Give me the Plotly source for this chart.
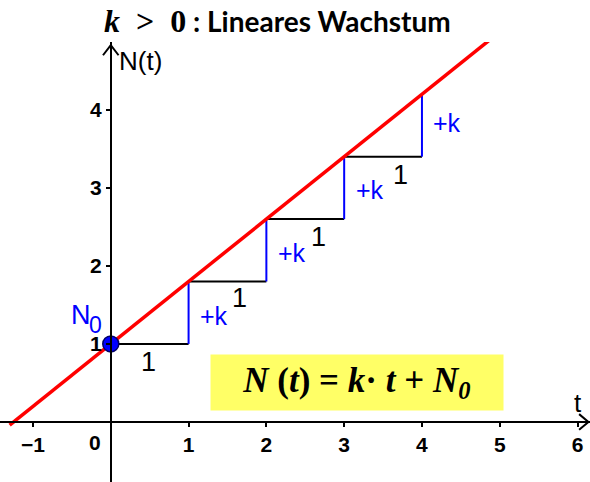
import plotly.graph_objects as go

# ---- data ----
t_line = [-1.3, 4.9]
N_line = [-0.04, 4.92]

step_t = [0, 1, 2, 3, 4]
step_N = [1.0, 1.8, 2.6, 3.4, 4.2]

one_label_t = [0.48, 1.66, 2.67, 3.72]
one_label_N = [0.77, 1.59, 2.37, 3.17]

k_label_t = [1.12, 2.12, 3.12, 4.12]
k_label_N = [1.36, 2.17, 2.97, 3.83]

x_ticks = [-1, 1, 2, 3, 4, 5, 6]
x_ticktext = ["\u22121", "1", "2", "3", "4", "5", "6"]
y_ticks = [1, 2, 3, 4]

X_RANGE = [-1.424, 6.16]
Y_RANGE = [-0.77, 4.87]

SANS = "Liberation Sans, Arial, sans-serif"

fig = go.Figure()

# black horizontal and blue vertical step segments
hx, hy, vx, vy = [], [], [], []
for i in range(len(step_t) - 1):
    hx += [step_t[i], step_t[i + 1], None]
    hy += [step_N[i], step_N[i], None]
    vx += [step_t[i + 1], step_t[i + 1], None]
    vy += [step_N[i], step_N[i + 1], None]

fig.add_trace(go.Scatter(x=hx, y=hy, mode="lines",
                         line=dict(color="black", width=2), hoverinfo="skip"))
fig.add_trace(go.Scatter(x=vx, y=vy, mode="lines",
                         line=dict(color="#0000ff", width=2), hoverinfo="skip"))
fig.add_trace(go.Scatter(x=t_line, y=N_line, mode="lines",
                         line=dict(color="#ff0000", width=3.5), hoverinfo="skip"))
fig.add_trace(go.Scatter(x=[step_t[0]], y=[step_N[0]], mode="markers",
                         marker=dict(color="#0000ff", size=16,
                                     line=dict(color="#000066", width=1.5)),
                         hoverinfo="skip"))

anns = []
for tx, ny in zip(one_label_t, one_label_N):
    anns.append(dict(x=tx, y=ny, text="1", showarrow=False,
                     font=dict(family=SANS, size=27, color="black")))
for tx, ny in zip(k_label_t, k_label_N):
    anns.append(dict(x=tx, y=ny, text="+k", showarrow=False, xanchor="left",
                     font=dict(family=SANS, size=25, color="#0000ff")))

# axis names and special labels
anns.append(dict(x=0.08, y=4.63, text="N(t)", showarrow=False, xanchor="left",
                 font=dict(family=SANS, size=26, color="black")))
anns.append(dict(x=6.0, y=0.24, text="t", showarrow=False,
                 font=dict(family=SANS, size=26, color="black")))
anns.append(dict(x=-0.2, y=-0.27, text="<b>0</b>", showarrow=False,
                 font=dict(family=SANS, size=21, color="black")))
anns.append(dict(x=-0.38, y=1.37, text="N", showarrow=False,
                 font=dict(family=SANS, size=27, color="#0000ff")))
anns.append(dict(x=-0.2, y=1.24, text="0", showarrow=False,
                 font=dict(family=SANS, size=23, color="#0000ff")))

# formula box
anns.append(dict(x=3.165, y=0.5, showarrow=False,
                 text="\u00a0\u00a0\u00a0<b><i>N</i>\u00a0(<i>t</i>)\u00a0=\u00a0<i>k</i>\u00b7\u00a0<i>t</i>\u00a0+\u00a0<i>N</i><sub><i>0</i></sub></b>\u00a0\u00a0\u00a0",
                 bgcolor="#ffff66", borderpad=6,
                 font=dict(family="Liberation Serif, DejaVu Serif", size=35, color="black")))

# title
anns.append(dict(xref="paper", yref="paper", x=0.471, y=1.047, yanchor="middle",
                 showarrow=False,
                 text="<span style=\"font-family:'Liberation Serif';font-size:32px\"><b><i>k</i>\u2002&gt;\u20020</b></span>"
                      "<b> : Lineares Wachstum</b>",
                 font=dict(family="Lato, Open Sans", size=28, color="black")))

# arrowheads
shapes = [
    dict(type="path", path="M 6.02,0.1 L 6.14,0 L 6.02,-0.1",
         line=dict(color="black", width=2)),
    dict(type="path", path="M -0.1,4.7 L 0,4.83 L 0.1,4.7",
         line=dict(color="black", width=2)),
]

xpos = (0 - X_RANGE[0]) / (X_RANGE[1] - X_RANGE[0])
ypos = (0 - Y_RANGE[0]) / (Y_RANGE[1] - Y_RANGE[0])

tickfont = dict(family=SANS, size=21, color="black", weight="bold")

fig.update_layout(
    width=590, height=482, autosize=False,
    margin=dict(l=0, r=0, t=42, b=0),
    paper_bgcolor="white", plot_bgcolor="white",
    showlegend=False,
    annotations=anns, shapes=shapes,
    xaxis=dict(range=X_RANGE, anchor="free", position=ypos,
               showline=True, linecolor="black", linewidth=2,
               showgrid=False, zeroline=False,
               ticks="outside", ticklen=4, tickwidth=1.5, tickcolor="black",
               tickvals=x_ticks, ticktext=x_ticktext, tickfont=tickfont),
    yaxis=dict(range=Y_RANGE, anchor="free", position=xpos,
               showline=True, linecolor="black", linewidth=2,
               showgrid=False, zeroline=False,
               ticks="outside", ticklen=4, tickwidth=1.5, tickcolor="black",
               tickvals=y_ticks, tickfont=tickfont),
)

fig.write_html("out.html", config={"displayModeBar": False},
               post_script="document.body.style.margin='0';")
